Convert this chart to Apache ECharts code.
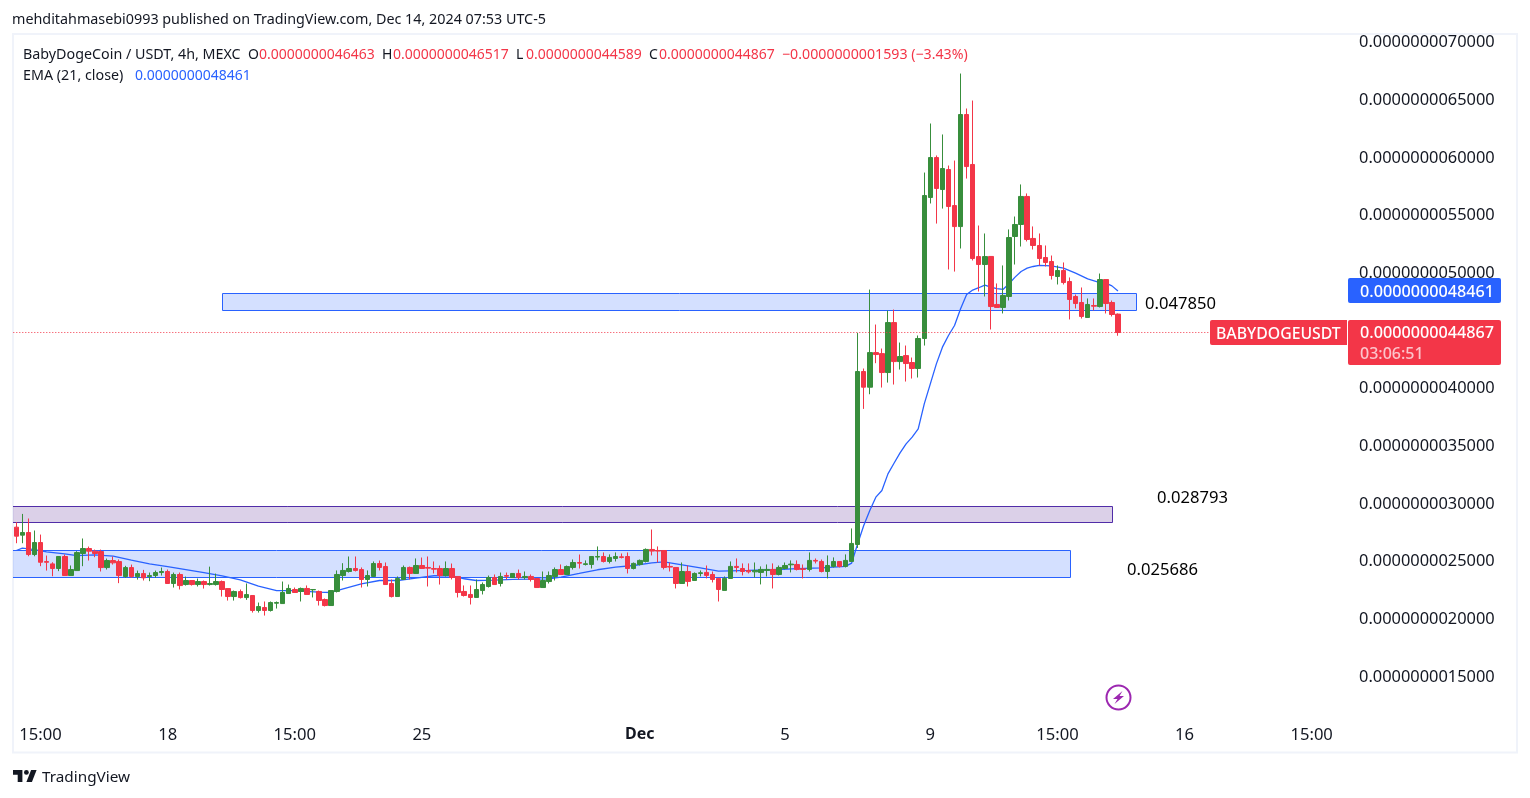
<!DOCTYPE html>
<html>
<head>
<meta charset="utf-8">
<style>html,body{margin:0;padding:0;background:#fff}#c{width:1530px;height:798px}</style>
<script src="https://cdn.jsdelivr.net/npm/echarts@6/dist/echarts.min.js"></script>
</head>
<body>
<div id="c"></div>
<script>
// Prices are in units of 1e-9 USDT
const opens = [2.80,2.731,2.754,2.563,2.667,2.502,2.482,2.442,2.546,2.381,2.424,2.572,2.615,2.592,2.589,2.45,2.511,2.502,2.372,2.45,2.372,2.398,2.372,2.381,2.407,2.416,2.312,2.39,2.303,2.338,2.303,2.329,2.303,2.303,2.329,2.268,2.199,2.242,2.19,2.208,2.078,2.104,2.078,2.141,2.138,
2.225,2.26,2.243,2.269,2.257,2.243,2.173,2.121,2.243,2.381,2.416,2.442,2.433,2.347,2.373,2.485,2.459,2.312,2.199,2.347,2.451,2.399,2.468,2.451,2.442,2.442,2.381,2.442,2.373,2.243,2.217,2.191,2.251,2.286,2.364,2.312,2.381,2.364,2.399,2.364,2.373,2.355,2.277,2.329,2.373,2.433,2.39,2.451,2.494,
2.477,2.477,2.541,2.546,2.503,2.529,2.543,2.546,2.442,2.477,2.503,2.607,2.598,2.598,2.46,2.451,2.312,2.416,2.338,2.399,2.408,2.39,2.356,2.252,2.356,2.46,2.442,2.425,2.413,2.408,2.425,2.434,2.39,2.442,2.474,2.477,2.439,2.434,2.512,2.503,2.416,2.46,2.503,2.46,2.503,
2.65,4.149,4.013,4.313,4.304,4.14,4.573,4.235,4.287,4.227,4.175,4.435,5.657,6.003,5.726,5.899,5.587,5.405,6.376,5.943,5.145,5.076,5.146,4.73,4.704,4.799,5.319,5.423,5.666,5.302,5.241,5.137,5.102,4.972,5.024,4.929,4.799,4.747,4.617,4.721,4.712,4.946,4.747,4.6463];
const closes = [2.722,2.754,2.563,2.667,2.496,2.496,2.442,2.546,2.381,2.433,2.58,2.615,2.592,2.572,2.45,2.511,2.491,2.381,2.45,2.372,2.398,2.361,2.381,2.407,2.416,2.312,2.39,2.294,2.338,2.303,2.329,2.303,2.312,2.329,2.26,2.199,2.242,2.19,2.216,2.078,2.112,2.078,2.147,2.147,2.234,
2.269,2.234,2.269,2.217,2.26,2.165,2.121,2.251,2.39,2.425,2.442,2.425,2.347,2.381,2.485,2.451,2.303,2.199,2.355,2.451,2.399,2.468,2.442,2.445,2.436,2.381,2.442,2.364,2.234,2.208,2.191,2.26,2.303,2.364,2.303,2.373,2.375,2.399,2.364,2.373,2.347,2.277,2.338,2.381,2.433,2.39,2.459,2.494,2.488,
2.483,2.546,2.546,2.503,2.538,2.546,2.538,2.442,2.486,2.512,2.607,2.593,2.593,2.451,2.454,2.312,2.416,2.33,2.399,2.405,2.382,2.347,2.26,2.356,2.46,2.451,2.416,2.413,2.425,2.434,2.434,2.39,2.451,2.468,2.48,2.434,2.434,2.512,2.506,2.416,2.468,2.503,2.46,2.512,2.659,
4.149,4.013,4.313,4.296,4.14,4.573,4.235,4.279,4.218,4.175,4.435,5.674,6.003,5.735,5.908,5.579,5.405,6.376,5.925,5.128,5.076,5.145,4.712,4.704,4.808,5.31,5.423,5.666,5.293,5.241,5.128,5.094,4.981,5.024,4.92,4.773,4.738,4.626,4.73,4.715,4.946,4.738,4.643,4.4867];
const lows = [2.661,2.661,2.548,2.548,2.462,2.424,2.375,2.419,2.381,2.381,2.424,2.462,2.511,2.54,2.416,2.433,2.476,2.315,2.361,2.361,2.346,2.338,2.332,2.361,2.381,2.312,2.277,2.26,2.294,2.294,2.286,2.268,2.294,2.294,2.199,2.164,2.164,2.182,2.17,2.06,2.06,2.034,2.069,2.095,2.138,
2.225,2.234,2.156,2.217,2.191,2.121,2.113,2.121,2.234,2.338,2.407,2.416,2.277,2.286,2.373,2.425,2.303,2.191,2.199,2.347,2.347,2.399,2.442,2.286,2.399,2.303,2.373,2.347,2.191,2.199,2.13,2.191,2.217,2.277,2.303,2.286,2.347,2.364,2.347,2.347,2.329,2.277,2.277,2.312,2.338,2.39,2.39,2.433,2.442,
2.468,2.442,2.512,2.494,2.486,2.503,2.529,2.399,2.434,2.468,2.494,2.555,2.494,2.434,2.416,2.269,2.312,2.286,2.338,2.373,2.356,2.321,2.156,2.252,2.356,2.408,2.382,2.399,2.364,2.304,2.373,2.269,2.382,2.434,2.408,2.425,2.356,2.416,2.486,2.408,2.356,2.451,2.451,2.451,2.503,
2.62,3.825,3.952,4.221,4.01,4.053,4.036,4.166,4.062,4.088,4.097,4.374,5.605,5.431,5.561,5.033,5.015,5.215,5.821,5.111,4.842,4.799,4.513,4.704,4.652,4.764,5.076,5.232,5.276,5.206,5.068,5.059,4.946,4.903,4.903,4.6,4.695,4.608,4.617,4.678,4.704,4.652,4.626,4.4589];
const highs = [2.843,2.915,2.875,2.771,2.736,2.554,2.496,2.546,2.563,2.468,2.592,2.702,2.632,2.606,2.606,2.528,2.546,2.52,2.465,2.476,2.424,2.43,2.407,2.424,2.45,2.433,2.407,2.407,2.372,2.338,2.355,2.338,2.458,2.398,2.338,2.268,2.251,2.26,2.312,2.208,2.147,2.156,2.156,2.156,2.329,
2.303,2.277,2.277,2.295,2.26,2.251,2.182,2.251,2.425,2.488,2.546,2.546,2.451,2.425,2.503,2.511,2.494,2.347,2.373,2.468,2.459,2.529,2.537,2.546,2.503,2.468,2.503,2.485,2.373,2.295,2.295,2.347,2.321,2.381,2.39,2.407,2.407,2.399,2.433,2.416,2.39,2.355,2.416,2.416,2.451,2.477,2.468,2.52,2.563,
2.512,2.546,2.633,2.581,2.564,2.581,2.572,2.581,2.494,2.52,2.616,2.78,2.633,2.598,2.494,2.451,2.494,2.468,2.408,2.425,2.468,2.416,2.356,2.373,2.503,2.529,2.486,2.486,2.494,2.46,2.477,2.486,2.468,2.494,2.512,2.512,2.477,2.581,2.529,2.52,2.555,2.538,2.503,2.564,2.789,
4.484,4.175,4.859,4.556,4.348,4.677,4.686,4.4,4.374,4.27,4.461,5.873,6.298,6.021,6.203,5.934,5.977,6.731,6.428,6.497,5.414,5.345,5.146,4.912,5.068,5.38,5.492,5.77,5.692,5.406,5.345,5.241,5.154,5.068,5.094,4.964,4.816,4.877,4.782,4.782,4.998,4.946,4.764,4.6517];

// EMA(21) at these bar numbers
const emaBars = [0,1,3,5,8,10,13,16,19,22,25,28,31,34,37,40,43,46,47,50,52,54,57,60,63,66,69,72,74,76,79,82,85,88,90,93,96,99,102,105,107,110,113,116,118,121,125,129,133,137,138,139,140,141,142,143,144,145,146,147,148,149,150,151,152,153,154,155,156,157,158,159,160,161,162,163,164,165,166,167,168,169,171,173,175,177,179,180,181,182];
const emaValues = [2.598,2.618,2.606,2.586,2.569,2.554,2.56,2.549,2.514,2.482,2.459,2.433,2.407,2.378,2.344,2.289,2.251,2.251,2.246,2.237,2.234,2.266,2.309,2.338,2.338,2.358,2.379,2.379,2.353,2.338,2.341,2.347,2.35,2.352,2.368,2.399,2.431,2.454,2.468,2.491,2.5,2.474,2.448,2.419,2.422,2.425,2.431,2.44,2.448,2.46,2.489,2.656,2.814,2.944,3.06,3.118,3.262,3.354,3.444,3.522,3.58,3.652,3.869,4.042,4.215,4.36,4.461,4.548,4.692,4.816,4.855,4.875,4.897,4.88,4.868,4.86,4.909,4.967,5.016,5.045,5.059,5.068,5.065,5.045,5.001,4.952,4.92,4.915,4.891,4.8461];

const barCount = 221;
const categories = Array.from({length: barCount}, (_, i) => 'bar ' + i);
const tickBars = [4,25,46,67,103,127,151,172,193,214];
const tickLabels = ['15:00','18','15:00','25','Dec','5','9','15:00','16','15:00'];
const priceTicks = [1.5,2,2.5,3,3.5,4,5,5.5,6,6.5,7];

const zoneStart = [34,-1,-1];
const zoneEnd = [185,181,174];
const zoneTop = [4.823,2.98,2.597];
const zoneBottom = [4.676,2.842,2.363];
const zoneFill = ['rgba(41,98,255,0.2)','rgba(74,20,140,0.2)','rgba(41,98,255,0.2)'];
const zoneStroke = ['#2962ff','#512da8','#2962ff'];

const lastClose = 4.4867;
const UP = '#388e3c', DOWN = '#f33648', BLUE = '#2962ff', INK = '#131722';
const FONT = '"Noto Sans", sans-serif';

const fmt = v => (v * 1e-9).toFixed(13);
const chart = echarts.init(document.getElementById('c'), null, {renderer: 'canvas'});

function txt(x, y, s, fill, size, weight) {
  return {type: 'text', x, y, z: 50, silent: true,
    style: {text: s, fill: fill || INK, font: (weight ? weight + ' ' : '') + (size || 14) + 'px ' + FONT, verticalAlign: 'middle'}};
}

const graphics = [
  {type: 'rect', z: 0, silent: true, shape: {x: 13, y: 34, width: 1504, height: 718.5}, style: {fill: 'none', stroke: '#f0f3fa', lineWidth: 2}},
  txt(12, 20, 'mehditahmasebi0993 published on TradingView.com, Dec 14, 2024 07:53 UTC-5', INK, 14.33),
  txt(23, 55, 'BabyDogeCoin / USDT, 4h, MEXC', INK, 14.3),
  txt(248, 55, 'O'), txt(259, 55, '0.0000000046463', DOWN),
  txt(382, 55, 'H'), txt(393, 55, '0.0000000046517', DOWN),
  txt(516, 55, 'L'), txt(526, 55, '0.0000000044589', DOWN),
  txt(649, 55, 'C'), txt(659, 55, '0.0000000044867', DOWN),
  txt(782, 55, '\u22120.0000000001593 (\u22123.43%)', DOWN, 14.2),
  txt(23, 76, 'EMA (21, close)', INK, 14.3), txt(135, 76, '0.0000000048461', BLUE),
  txt(1145, 304, '0.047850', '#000', 16.6),
  txt(1157, 498, '0.028793', '#000', 16.6),
  txt(1127, 570, '0.025686', '#000', 16.6),
  {type: 'rect', z: 40, silent: true, shape: {x: 1348, y: 278, width: 153, height: 25, r: 2}, style: {fill: BLUE}},
  txt(1360, 292, '0.0000000048461', '#fff', 16.2, 500),
  {type: 'rect', z: 40, silent: true, shape: {x: 1210, y: 320, width: 137, height: 25, r: [2, 0, 0, 2]}, style: {fill: DOWN}},
  {type: 'rect', z: 40, silent: true, shape: {x: 1348, y: 320, width: 153, height: 45, r: 2}, style: {fill: DOWN}},
  txt(1216, 334, 'BABYDOGEUSDT', '#fff', 15.8, 500),
  txt(1360, 333, '0.0000000044867', '#fff', 16.2, 500),
  txt(1360, 354, '03:06:51', '#fcc4cb', 16, 500),
  {type: 'circle', z: 40, silent: true, shape: {cx: 1118.5, cy: 697.5, r: 12}, style: {fill: '#fff', stroke: '#9c27b0', lineWidth: 2}},
  {type: 'polygon', z: 41, silent: true, shape: {points: [[1122.5,691],[1113,699],[1117.5,699],[1114.5,704],[1124,696],[1119.5,696]]}, style: {fill: '#9c27b0'}},
  {type: 'polygon', z: 40, silent: true, shape: {points: [[13,770],[22.4,770],[22.4,782],[17.7,782],[17.7,774.8],[13,774.8]]}, style: {fill: INK}},
  {type: 'polygon', z: 40, silent: true, shape: {points: [[31.9,782],[26.4,782],[31.1,770],[36.6,770]]}, style: {fill: INK}},
  {type: 'circle', z: 40, silent: true, shape: {cx: 26.4, cy: 772.4, r: 2.4}, style: {fill: INK}},
  txt(42, 778, 'TradingView', INK, 15.3)
];

chart.setOption({
  animation: false,
  backgroundColor: '#fff',
  textStyle: {fontFamily: FONT},
  grid: {left: 13.3, top: 42.5, width: 1337.7, height: 634.7},
  xAxis: {
    type: 'category', data: categories, boundaryGap: true,
    axisLine: {show: false}, axisTick: {show: false}, splitLine: {show: false},
    axisLabel: {
      margin: 49.5, fontSize: 16.6, color: INK, fontFamily: FONT, hideOverlap: false,
      interval: i => tickBars.includes(i),
      formatter: (v, i) => {
        const l = tickLabels[tickBars.indexOf(i)] || '';
        return l === 'Dec' ? '{b|Dec}' : l;
      },
      rich: {b: {fontWeight: 'bold', fontSize: 16, color: INK, fontFamily: FONT}}
    }
  },
  yAxis: {
    type: 'value', position: 'right', min: 1.5, max: 7, interval: 0.5,
    axisLine: {show: false}, axisTick: {show: false}, splitLine: {show: false},
    axisLabel: {
      margin: 8, fontSize: 16.4, color: INK, fontFamily: FONT,
      formatter: v => priceTicks.includes(v) ? fmt(v) : ''
    }
  },
  graphic: {elements: graphics},
  series: [
    {
      type: 'custom', z: 1, silent: true, clip: true,
      data: zoneStart.map((s, i) => [s, zoneEnd[i], zoneTop[i], zoneBottom[i], i]),
      encode: {x: [0, 1], y: [2, 3]},
      renderItem: (params, api) => {
        const a = api.coord([api.value(0), api.value(2)]);
        const b = api.coord([api.value(1), api.value(3)]);
        const idx = api.value(4);
        const x0 = Math.round(a[0]) + 0.5, y0 = Math.floor(a[1]) + 0.5;
        const x1 = Math.round(b[0]) + 0.5, y1 = Math.floor(b[1]) + 0.5;
        return {type: 'rect', shape: {x: x0, y: y0, width: x1 - x0, height: y1 - y0},
          style: {fill: zoneFill[idx], stroke: zoneStroke[idx], lineWidth: 1}};
      }
    },
    {
      type: 'line', z: 2, silent: true, symbol: 'none', smooth: false,
      data: emaBars.map((b, i) => [b, emaValues[i]]),
      lineStyle: {color: BLUE, width: 1.3},
      markLine: {
        silent: true, symbol: 'none', animation: false, label: {show: false},
        lineStyle: {color: DOWN, type: [1, 2], width: 1},
        data: [{yAxis: lastClose}]
      }
    },
    {
      type: 'candlestick', z: 3, silent: true, barWidth: 5,
      data: opens.map((o, i) => [o, closes[i], lows[i], highs[i]]),
      itemStyle: {color: UP, color0: DOWN, borderColor: UP, borderColor0: DOWN, borderWidth: 1}
    }
  ]
});
</script>
</body>
</html>
